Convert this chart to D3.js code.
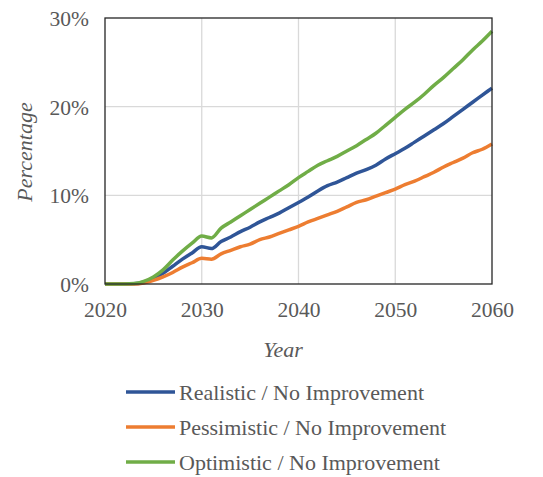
<!DOCTYPE html>
<html><head><meta charset="utf-8">
<script src="https://cdn.jsdelivr.net/npm/d3@7"></script>
<style>body{margin:0;background:#fff;} svg{display:block;}</style>
</head><body>
<svg id="c" width="543" height="477"></svg>
<script>
const years = d3.range(2020, 2061);
const realistic = [0,0,0,0.02,0.2,0.6,1.2,2.0,2.8,3.5,4.2,4.0,4.8,5.3,5.9,6.4,7.0,7.5,8.0,8.6,9.2,9.8,10.5,11.1,11.5,12.0,12.5,12.9,13.4,14.1,14.7,15.3,16.0,16.7,17.4,18.1,18.9,19.7,20.5,21.3,22.1];
const pessimistic = [0,0,0,0,0.1,0.4,0.8,1.3,1.9,2.4,2.9,2.8,3.4,3.8,4.2,4.5,5.0,5.3,5.7,6.1,6.5,7.0,7.4,7.8,8.2,8.7,9.2,9.5,9.9,10.3,10.7,11.2,11.6,12.1,12.6,13.2,13.7,14.2,14.8,15.2,15.8];
const optimistic = [0,0,0,0.05,0.3,0.8,1.6,2.7,3.7,4.6,5.4,5.2,6.3,7.0,7.7,8.4,9.1,9.8,10.5,11.2,12.0,12.7,13.4,13.9,14.4,15.0,15.6,16.3,17.0,17.9,18.8,19.7,20.5,21.4,22.4,23.3,24.3,25.3,26.4,27.4,28.5];
const seriesNames = ["Realistic / No Improvement","Pessimistic / No Improvement","Optimistic / No Improvement"];
const seriesColors = ["#2F5597","#ED7D31","#70AD47"];
const xTicks = [2020,2030,2040,2050,2060];
const yTicks = [0,10,20,30];

const series = [realistic, pessimistic, optimistic];
const svg = d3.select("#c");
const L=105, R=492, T=18, B=284;
const x = d3.scaleLinear().domain([2020,2060]).range([L,R]);
const y = d3.scaleLinear().domain([0,30]).range([B,T]);
const font = "Liberation Serif, Times New Roman, serif";
const txt = "#595959";

// grid
svg.append("g").selectAll("line").data(xTicks.slice(1,-1)).join("line")
  .attr("x1",d=>x(d)).attr("x2",d=>x(d)).attr("y1",T).attr("y2",B)
  .attr("stroke","#d9d9d9").attr("stroke-width",1.3);
svg.append("g").selectAll("line").data(yTicks.slice(1,-1)).join("line")
  .attr("y1",d=>y(d)).attr("y2",d=>y(d)).attr("x1",L).attr("x2",R)
  .attr("stroke","#d9d9d9").attr("stroke-width",1.3);

// lines
const line = d3.line().x((d,i)=>x(years[i])).y(d=>y(d)).curve(d3.curveMonotoneX);
series.forEach((s,k)=>{
  svg.append("path").datum(s).attr("d",line).attr("fill","none")
    .attr("stroke",seriesColors[k]).attr("stroke-width",3.5).attr("stroke-linejoin","round");
});
// frame
svg.append("rect").attr("x",L).attr("y",T).attr("width",R-L).attr("height",B-T)
  .attr("fill","none").attr("stroke","#262626").attr("stroke-width",1.3);

// axes
const xAxis = svg.append("g").attr("transform",`translate(0,${B})`)
  .call(d3.axisBottom(x).tickValues(xTicks).tickFormat(d3.format("d")).tickSize(0).tickPadding(33));
const yAxis = svg.append("g").attr("transform",`translate(${L},0)`)
  .call(d3.axisLeft(y).tickValues(yTicks).tickFormat(d=>d+"%").tickSize(0).tickPadding(16));
[xAxis,yAxis].forEach(a=>{
  a.select(".domain").remove();
  a.selectAll("text").attr("font-family",font).attr("font-size",21.5).attr("fill",txt);
});
xAxis.selectAll("text").attr("dy","0");
yAxis.selectAll("text").attr("dy","0.35em");

// titles
svg.append("text").attr("transform","translate(32,152) rotate(-90)").attr("text-anchor","middle")
  .attr("font-family",font).attr("font-size",22).attr("font-style","italic").attr("fill",txt).text("Percentage");
svg.append("text").attr("x",283).attr("y",357).attr("text-anchor","middle")
  .attr("font-family",font).attr("font-size",22).attr("font-style","italic").attr("fill",txt).text("Year");

// legend
const lg = svg.append("g");
seriesNames.forEach((n,k)=>{
  const yy = 392 + k*35;
  lg.append("line").attr("x1",126).attr("x2",175).attr("y1",yy).attr("y2",yy)
    .attr("stroke",seriesColors[k]).attr("stroke-width",3.5);
  lg.append("text").attr("x",179).attr("y",yy).attr("dy","0.35em")
    .attr("font-family",font).attr("font-size",22).attr("fill",txt).text(n);
});
</script>
</body></html>
